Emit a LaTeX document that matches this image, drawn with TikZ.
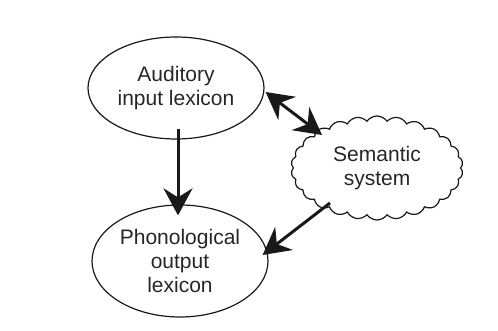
\documentclass[tikz,border=0pt]{standalone}
\usepackage{fontspec}
\setmainfont{Liberation Sans}
\usetikzlibrary{shapes.geometric,shapes.symbols,arrows.meta,calc}
\tikzset{
  lexbox/.style={ellipse,draw=black!90,line width=1.2pt,inner sep=0pt,align=center,
    font=\fontsize{21}{24}\selectfont,text=black!85},
  cloudbox/.style={cloud,cloud puffs=26,cloud puff arc=110,cloud ignores aspect,
    draw=black!90,line width=1.2pt,inner sep=0pt,align=center,
    font=\fontsize{21}{24}\selectfont,text=black!85},
  tip/.style={Stealth[length=27pt,width=29pt,inset=9pt]},
  arr/.style={line width=3pt,black!90,-{Stealth[length=27pt,width=29pt,inset=9pt]}},
  arrboth/.style={line width=3pt,black!90,
    {Stealth[length=27pt,width=29pt,inset=9pt]}-{Stealth[length=27pt,width=29pt,inset=9pt]}}
}
\begin{document}
\begin{tikzpicture}[x=1pt,y=1pt]
  \useasboundingbox (0,0) rectangle (498,331);
  \node[lexbox,minimum width=176pt,minimum height=102pt] (aud) at (176,243)
    {Auditory\\input lexicon};
  \node[lexbox,minimum width=176pt,minimum height=112pt] (pho) at (180,70)
    {Phonological\\output\\lexicon};
  \node[cloudbox,minimum width=172pt,minimum height=104pt] (sem) at (377,163)
    {Semantic\\system};
  % connections between the stores
  \coordinate (a1) at ($(aud.south)+(2,11)$);
  \coordinate (p1) at ($(pho.north)+(-2,-11)$);
  \draw[arr] (a1) -- (p1);
  \coordinate (a2) at ($(aud.east)+(1,-4)$);
  \coordinate (s2) at ($(sem.center)+(-55,33)$);
  \draw[arrboth] (a2) -- (s2);
  \coordinate (s3) at ($(sem.center)+(-47,-35)$);
  \coordinate (p3) at ($(pho.east)+(-6,6)$);
  \draw[arr] (s3) -- (p3);
\end{tikzpicture}
\end{document}
